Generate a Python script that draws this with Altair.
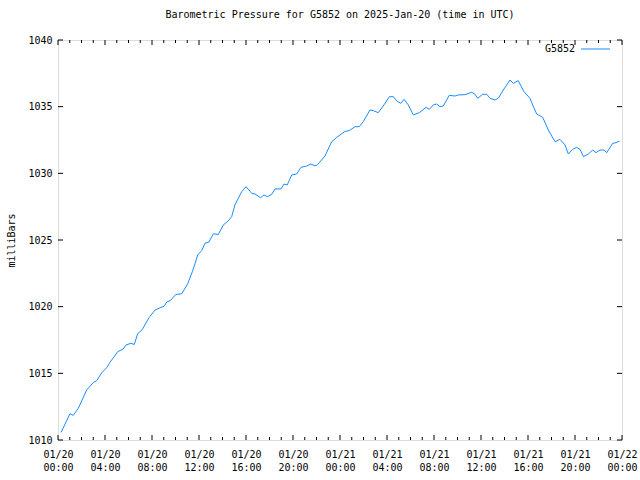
import json
import altair as alt
import pandas as pd

# hours since 2025-01-20 00:00 UTC
hours = [0.26, 1.02, 1.30, 1.73, 2.44, 3.00, 3.29, 3.72, 4.14, 4.43, 5.08, 5.56, 5.76, 6.21,
         6.49, 6.78, 7.17, 7.74, 8.26, 8.77, 9.05, 9.25, 9.53, 10.02, 10.53, 11.04, 11.43,
         11.66, 11.89, 12.23, 12.51, 12.85, 13.22, 13.64, 14.07, 14.49, 14.78, 15.06, 15.63,
         16.00, 16.49, 16.77, 17.25, 17.53, 17.81, 18.19, 18.47, 18.98, 19.23, 19.51, 19.89,
         20.31, 20.68, 21.17, 21.51, 21.87, 22.07, 22.72, 23.29, 23.72, 24.43, 24.79, 25.28,
         25.64, 25.98, 26.55, 26.83, 27.26, 27.74, 28.20, 28.54, 28.83, 29.17, 29.45, 29.81,
         30.24, 30.75, 31.32, 31.60, 31.94, 32.23, 32.51, 32.79, 33.30, 33.79, 34.07, 34.64,
         35.21, 35.49, 35.72, 36.14, 36.49, 36.77, 37.19, 37.47, 37.90, 38.47, 38.75, 39.17,
         39.66, 40.17, 40.40, 40.74, 41.25, 41.73, 42.30, 42.72, 43.15, 43.43, 43.80, 44.14,
         44.43, 44.71, 45.13, 45.51, 45.79, 46.13, 46.47, 46.70, 47.21, 47.49, 47.79]
pressure = [1010.57, 1011.97, 1011.85, 1012.38, 1013.75, 1014.30, 1014.45, 1015.04, 1015.42,
            1015.83, 1016.62, 1016.83, 1017.11, 1017.26, 1017.16, 1017.97, 1018.28, 1019.17,
            1019.75, 1019.95, 1020.05, 1020.35, 1020.44, 1020.91, 1020.97, 1021.72, 1022.62,
            1023.22, 1023.88, 1024.20, 1024.76, 1024.85, 1025.47, 1025.41, 1026.13, 1026.43,
            1026.75, 1027.63, 1028.62, 1029.00, 1028.50, 1028.45, 1028.17, 1028.38, 1028.25,
            1028.43, 1028.83, 1028.83, 1029.20, 1029.13, 1029.88, 1029.95, 1030.45, 1030.55,
            1030.70, 1030.57, 1030.63, 1031.30, 1032.37, 1032.70, 1033.15, 1033.20, 1033.50,
            1033.50, 1033.87, 1034.75, 1034.70, 1034.55, 1035.13, 1035.75, 1035.75, 1035.43,
            1035.25, 1035.55, 1035.13, 1034.38, 1034.55, 1034.95, 1034.80, 1035.13, 1035.20,
            1035.00, 1035.05, 1035.85, 1035.80, 1035.88, 1035.90, 1036.08, 1035.93, 1035.63,
            1035.93, 1035.93, 1035.63, 1035.50, 1035.63, 1036.25, 1037.00, 1036.75, 1036.95,
            1036.12, 1035.63, 1035.13, 1034.45, 1034.20, 1033.25, 1032.37, 1032.55, 1032.13,
            1031.45, 1031.80, 1031.95, 1031.80, 1031.25, 1031.45, 1031.75, 1031.55, 1031.75,
            1031.75, 1031.55, 1032.25, 1032.30, 1032.42]

x_ticks = [0, 4, 8, 12, 16, 20, 24, 28, 32, 36, 40, 44, 48]
x_tick_labels = [["01/20", "00:00"], ["01/20", "04:00"], ["01/20", "08:00"], ["01/20", "12:00"],
                 ["01/20", "16:00"], ["01/20", "20:00"], ["01/21", "00:00"], ["01/21", "04:00"],
                 ["01/21", "08:00"], ["01/21", "12:00"], ["01/21", "16:00"], ["01/21", "20:00"],
                 ["01/22", "00:00"]]
x_minor = list(range(0, 49))
y_ticks = [1010, 1015, 1020, 1025, 1030, 1035, 1040]
series_name = "G5852"

FONT = "DejaVu Sans Mono"
COLOR = "#1a8cff"
W, H = 564, 400

df = pd.DataFrame({"hour": hours, "pressure": pressure})
xmaj = pd.DataFrame({"hour": x_ticks})
xmin = pd.DataFrame({"hour": [h for h in x_minor if h not in x_ticks]})
ydf = pd.DataFrame({"pressure": y_ticks})
one = pd.DataFrame({"name": [series_name]})

xscale = alt.Scale(domain=[0, 48], nice=False, zero=False)
yscale = alt.Scale(domain=[1010, 1040], nice=False, zero=False)

label_expr = json.dumps(x_tick_labels) + "[round(datum.value / 4)]"

xaxis = alt.Axis(values=x_ticks, labelExpr=label_expr, ticks=False, domain=False,
                 grid=False, title=None, labelFont=FONT, labelFontSize=10,
                 labelColor="black", labelPadding=9, labelLineHeight=13,
                 labelFlush=False, labelOverlap=False)
yaxis = alt.Axis(values=y_ticks, ticks=False, domain=False, grid=False,
                 title="milliBars", titleFont=FONT, titleFontSize=10,
                 titleFontWeight="normal", titleColor="black", titleAngle=270,
                 titleX=-47, titleY=200, titleAlign="center", titleBaseline="middle",
                 labelFont=FONT, labelFontSize=10, labelColor="black",
                 labelPadding=6, labelFlush=False, format="d")

X = alt.X("hour:Q", scale=xscale, axis=xaxis)
Y = alt.Y("pressure:Q", scale=yscale, axis=yaxis)

line = alt.Chart(df).mark_line(color=COLOR, strokeWidth=1, interpolate="linear").encode(
    x=X, y=Y)

def xrule(d, y0, y1):
    return alt.Chart(d).mark_rule(color="black", strokeWidth=1).encode(
        x=X, y=alt.value(y0), y2=alt.value(y1))

def yrule(x0, x1):
    return alt.Chart(ydf).mark_rule(color="black", strokeWidth=1).encode(
        y=Y, x=alt.value(x0), x2=alt.value(x1))

ticks = [
    xrule(xmaj, H, H - 5), xrule(xmin, H, H - 3),
    xrule(xmaj, 0, 5), xrule(xmin, 0, 3),
    yrule(0, 5), yrule(W, W - 5),
]

legend_text = alt.Chart(one).mark_text(align="right", baseline="middle", font=FONT,
                                       fontSize=10, color="black").encode(
    x=alt.value(517), y=alt.value(9), text="name:N")
legend_line = alt.Chart(one).mark_rule(color=COLOR, strokeWidth=1).encode(
    x=alt.value(523), x2=alt.value(552), y=alt.value(9))

chart = alt.layer(line, *ticks, legend_text, legend_line).properties(
    width=W, height=H,
    title=alt.TitleParams("Barometric Pressure for G5852 on 2025-Jan-20 (time in UTC)",
                          font=FONT, fontSize=10, fontWeight="normal", color="black",
                          anchor="middle", offset=15),
    autosize=alt.AutoSizeParams(type="none"),
    padding={"left": 58, "top": 40, "right": 18, "bottom": 40},
).configure_view(stroke="black", strokeWidth=1).configure(background="white")

chart.save("out.html", embed_options={"renderer": "svg", "actions": False})
